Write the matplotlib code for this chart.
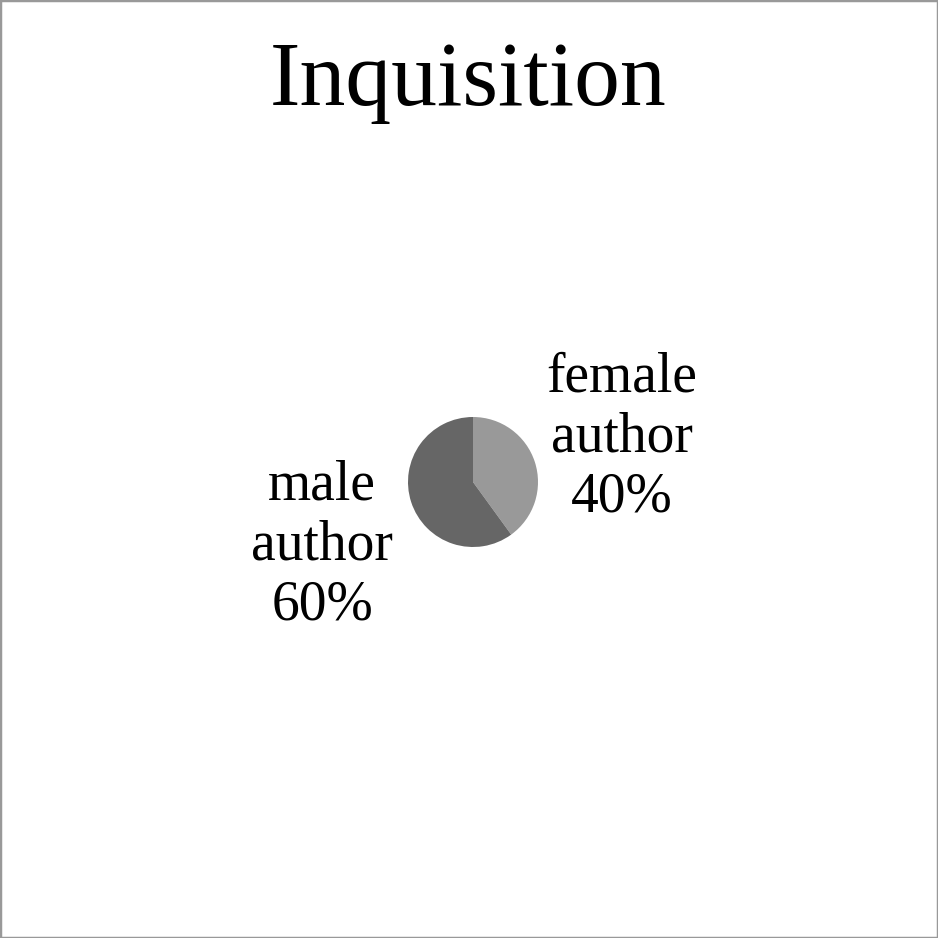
import matplotlib.pyplot as plt
from matplotlib.patches import Rectangle

title = "Inquisition"
labels = ["female\nauthor", "male\nauthor"]
shares = [40, 60]
colors = ["#999999", "#666666"]

plt.rcParams['font.family'] = ['Liberation Serif', 'DejaVu Serif']

fig = plt.figure(figsize=(9.38, 9.38), dpi=100)
fig.patch.set_facecolor('white')
fig.patches.append(Rectangle((0, 0), 1, 1, transform=fig.transFigure,
                             fill=False, edgecolor='#999999', linewidth=2.5))

fig.text(0.499, 1 - 105 / 938, title, ha='center', va='baseline', fontsize=66)

# pie centred at (473, 482) px, radius 65 px
r = 65 / 938
cx, cy = 473 / 938, 1 - 482 / 938
ax = fig.add_axes([cx - r, cy - r, 2 * r, 2 * r])
ax.pie(shares, colors=colors, startangle=90, counterclock=False,
       wedgeprops=dict(linewidth=0))
ax.set_xlim(-1, 1)
ax.set_ylim(-1, 1)
ax.axis('off')

# label positions in pie radii
pos = [(2.29, 0.68), (-2.32, -0.97)]
for (x, y), lab, v in zip(pos, labels, shares):
    ax.text(x, y, f"{lab}\n{v}%", ha='center', va='center', fontsize=40,
            linespacing=1.2, clip_on=False)

plt.savefig("out.png", dpi=100)
